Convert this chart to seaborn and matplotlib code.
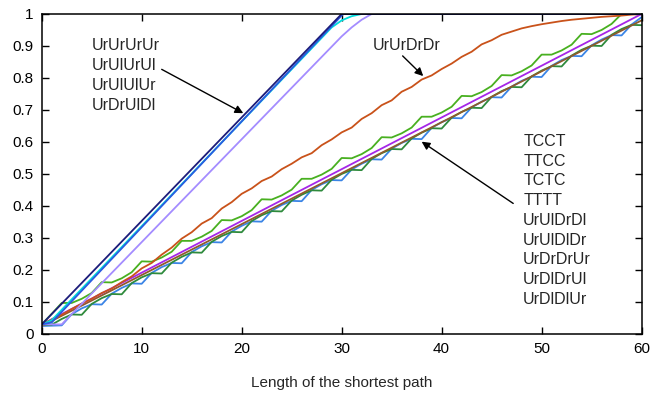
import matplotlib
matplotlib.use('Agg')
import matplotlib.pyplot as plt
import seaborn as sns

# x positions (path length)
steps = list(range(61))

# fast group: UrUrUrUr, UrUlUrUl, UrUlUlUr, UrDrUlDl
navy_x = [0, 30, 60]
navy_y = [0.03, 1.0, 1.0]
blue_fast_x = [0, 1, 30.15, 60]
blue_fast_y = [0.03, 0.036, 1.0, 1.0]
cyan_x = [0, 1, 29, 30, 31, 32, 60]
cyan_y = [0.03, 0.043, 0.958, 0.98, 0.993, 1.0, 1.0]
lav_x = [0, 2, 30, 31, 32, 33, 60]
lav_y = [0.03, 0.03, 0.93, 0.958, 0.982, 1.0, 1.0]

# UrUrDrDr
orange_y = [0.030, 0.045, 0.060, 0.078, 0.095, 0.110, 0.128, 0.142, 0.162, 0.180,
            0.205, 0.222, 0.248, 0.270, 0.298, 0.318, 0.345, 0.362, 0.392, 0.412,
            0.438, 0.455, 0.478, 0.492, 0.515, 0.532, 0.552, 0.565, 0.590, 0.608,
            0.630, 0.645, 0.672, 0.690, 0.715, 0.730, 0.757, 0.772, 0.795, 0.808,
            0.828, 0.845, 0.866, 0.882, 0.905, 0.918, 0.935, 0.945, 0.955, 0.962,
            0.968, 0.973, 0.978, 0.982, 0.985, 0.988, 0.991, 0.993, 0.995, 0.998,
            1.000]

# slow group (TCCT ... UrDlDlUr)
purple_x = [0, 60]
purple_y = [0.03, 1.0]
brown_x = [0, 60]
brown_y = [0.025, 0.98]
blue_step_y = [0.025, 0.026, 0.027, 0.062, 0.080, 0.093, 0.092, 0.126, 0.144, 0.158,
               0.157, 0.191, 0.209, 0.222, 0.221, 0.256, 0.274, 0.287, 0.286, 0.320,
               0.338, 0.352, 0.351, 0.385, 0.403, 0.416, 0.415, 0.450, 0.468, 0.481,
               0.480, 0.514, 0.532, 0.546, 0.545, 0.579, 0.597, 0.610, 0.609, 0.644,
               0.662, 0.675, 0.674, 0.708, 0.726, 0.740, 0.739, 0.773, 0.791, 0.804,
               0.803, 0.838, 0.856, 0.869, 0.868, 0.902, 0.920, 0.934, 0.933, 0.967,
               0.990]
lgreen_y = [0.030, 0.063, 0.097, 0.097, 0.110, 0.128, 0.162, 0.161, 0.174, 0.193,
            0.227, 0.226, 0.239, 0.257, 0.291, 0.291, 0.304, 0.322, 0.356, 0.355,
            0.368, 0.387, 0.421, 0.420, 0.433, 0.451, 0.485, 0.485, 0.498, 0.516,
            0.550, 0.549, 0.562, 0.581, 0.615, 0.614, 0.627, 0.645, 0.679, 0.679,
            0.692, 0.710, 0.744, 0.743, 0.756, 0.775, 0.809, 0.808, 0.821, 0.839,
            0.873, 0.873, 0.886, 0.904, 0.938, 0.937, 0.950, 0.969, 1.000, 1.000,
            1.000]
dgreen_y = [0.028, 0.029, 0.047, 0.061, 0.060, 0.094, 0.112, 0.125, 0.124, 0.159,
            0.177, 0.190, 0.189, 0.223, 0.241, 0.255, 0.254, 0.288, 0.306, 0.319,
            0.318, 0.353, 0.371, 0.384, 0.383, 0.417, 0.435, 0.449, 0.448, 0.482,
            0.500, 0.513, 0.512, 0.547, 0.565, 0.578, 0.577, 0.611, 0.629, 0.643,
            0.642, 0.676, 0.694, 0.707, 0.706, 0.741, 0.759, 0.772, 0.771, 0.805,
            0.823, 0.837, 0.836, 0.870, 0.888, 0.901, 0.900, 0.935, 0.953, 0.966,
            0.965]

fast_labels = ['UrUrUrUr', 'UrUlUrUl', 'UrUlUlUr', 'UrDrUlDl']
slow_labels = ['TCCT', 'TTCC', 'TCTC', 'TTTT', 'UrUlDrDl', 'UrUlDlDr',
               'UrDrDrUr', 'UrDlDrUl', 'UrDlDlUr']
xticks = [0, 10, 20, 30, 40, 50, 60]
yticks = [0, 0.1, 0.2, 0.3, 0.4, 0.5, 0.6, 0.7, 0.8, 0.9, 1.0]
ytick_labels = ['0', '0.1', '0.2', '0.3', '0.4', '0.5', '0.6', '0.7', '0.8', '0.9', '1']

sns.set_style("ticks")
plt.rcParams['font.family'] = ['Liberation Sans', 'DejaVu Sans']

fig = plt.figure(figsize=(6.54, 3.94), dpi=100)
ax = fig.add_axes([0.0638, 0.1523, 0.9172, 0.8122])

lw = 1.3
sns.lineplot(x=steps, y=blue_step_y, color='#3a84e6', lw=lw, ax=ax)
sns.lineplot(x=steps, y=dgreen_y, color='#2e8a3c', lw=lw, ax=ax)
sns.lineplot(x=brown_x, y=brown_y, color='#8f5a2c', lw=lw, ax=ax)
sns.lineplot(x=purple_x, y=purple_y, color='#a526e8', lw=lw, ax=ax)
sns.lineplot(x=steps, y=lgreen_y, color='#48b020', lw=lw, ax=ax)
sns.lineplot(x=steps, y=orange_y, color='#c9521a', lw=lw, ax=ax)
sns.lineplot(x=lav_x, y=lav_y, color='#a48cff', lw=lw, ax=ax)
sns.lineplot(x=cyan_x, y=cyan_y, color='#00dcdc', lw=lw, ax=ax)
sns.lineplot(x=blue_fast_x, y=blue_fast_y, color='#2a5be0', lw=lw, ax=ax)
sns.lineplot(x=navy_x, y=navy_y, color='#1c1c7a', lw=lw, ax=ax)

ax.set_xlim(0, 60)
ax.set_ylim(0, 1)
ax.set_xticks(xticks)
ax.set_yticks(yticks)
ax.set_yticklabels(ytick_labels)
ax.tick_params(direction='in', length=5, width=1, top=True, right=True,
               labelsize=11, colors='black', pad=6)
for s in ax.spines.values():
    s.set_visible(True)
    s.set_color('black')
    s.set_linewidth(1.1)
ax.set_xlabel('Length of the shortest path', fontsize=11, labelpad=14)
ax.set_ylabel('')

# annotations
for i, t in enumerate(fast_labels):
    ax.text(5.0, 0.903 - i * 0.0625, t, fontsize=11.5, va='center', ha='left')
ax.text(33.1, 0.9, 'UrUrDrDr', fontsize=11.5, va='center', ha='left')
for i, t in enumerate(slow_labels):
    ax.text(48.16, 0.6016 - i * 0.0616, t, fontsize=11.5, va='center', ha='left')

arrow = dict(arrowstyle='-|>', color='black', lw=1, mutation_scale=12,
             shrinkA=0, shrinkB=0)
ax.annotate('', xy=(20.16, 0.690), xytext=(12.0, 0.827), arrowprops=arrow)
ax.annotate('', xy=(38.16, 0.806), xytext=(36.1, 0.869), arrowprops=arrow)
ax.annotate('', xy=(38.0, 0.601), xytext=(47.16, 0.408), arrowprops=arrow)

fig.savefig('out.png', dpi=100)
